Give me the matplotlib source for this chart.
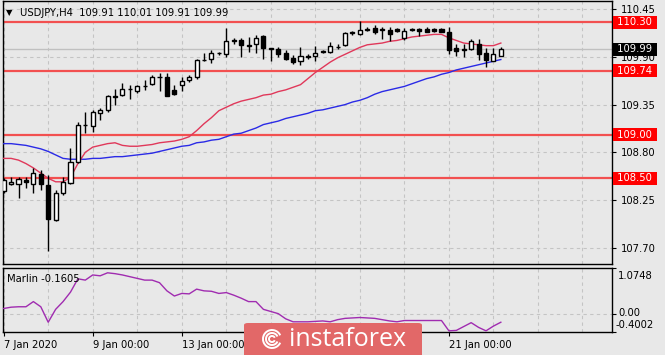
import numpy as np
import matplotlib
matplotlib.use('Agg')
import matplotlib.pyplot as plt
import matplotlib.transforms as mtransforms
from matplotlib.patches import FancyBboxPatch, Arc

# USDJPY H4 candles, 7 Jan 2020 00:00 .. 22 Jan 2020 04:00
opens = [108.35, 108.43, 108.44, 108.48, 108.44, 108.55, 108.42, 108.02, 108.33, 108.45,
         108.69, 109.12, 109.10, 109.25, 109.29, 109.45, 109.46, 109.53, 109.51, 109.56,
         109.59, 109.67, 109.67, 109.52, 109.58, 109.63, 109.67, 109.87, 109.88, 109.94,
         109.93, 110.08, 110.10, 110.04, 110.05, 110.14, 110.00, 109.99, 109.94, 109.89,
         109.85, 109.91, 109.91, 109.96, 109.96, 110.02, 110.04, 110.18, 110.17, 110.21,
         110.23, 110.21, 110.21, 110.22, 110.12, 110.21, 110.22, 110.22, 110.22, 110.22,
         110.19, 110.00, 109.98, 109.99, 110.05, 109.95, 109.85, 109.91]
highs = [108.50, 108.52, 108.51, 108.51, 108.62, 108.60, 108.54, 108.37, 108.51, 108.85,
         109.15, 109.27, 109.29, 109.31, 109.46, 109.53, 109.60, 109.58, 109.58, 109.63,
         109.69, 109.71, 109.72, 109.58, 109.67, 109.69, 109.88, 109.94, 109.98, 109.96,
         110.23, 110.12, 110.12, 110.13, 110.15, 110.15, 110.00, 110.01, 109.98, 109.92,
         110.02, 109.93, 110.03, 109.98, 110.07, 110.05, 110.19, 110.20, 110.31, 110.25,
         110.27, 110.25, 110.24, 110.23, 110.23, 110.23, 110.23, 110.24, 110.23, 110.23,
         110.25, 110.05, 110.05, 110.11, 110.11, 110.00, 110.00, 110.01]
lows = [108.33, 108.42, 108.27, 108.39, 108.33, 108.36, 107.66, 108.01, 108.31, 108.43,
        108.68, 109.02, 109.03, 109.17, 109.26, 109.35, 109.45, 109.41, 109.48, 109.52,
        109.58, 109.51, 109.45, 109.46, 109.51, 109.61, 109.64, 109.85, 109.83, 109.92,
        109.90, 110.05, 109.90, 109.96, 109.95, 109.88, 109.85, 109.90, 109.86, 109.82,
        109.81, 109.88, 109.85, 109.95, 109.95, 109.99, 110.03, 110.15, 110.15, 110.20,
        110.17, 110.11, 110.08, 110.19, 110.10, 110.20, 110.14, 110.19, 110.19, 110.19,
        109.93, 109.91, 109.90, 109.98, 109.87, 109.78, 109.85, 109.91]
closes = [108.48, 108.46, 108.49, 108.46, 108.56, 108.43, 108.03, 108.33, 108.46, 108.69,
          109.12, 109.11, 109.26, 109.29, 109.45, 109.44, 109.53, 109.53, 109.56, 109.57,
          109.67, 109.67, 109.45, 109.47, 109.62, 109.67, 109.87, 109.86, 109.94, 109.94,
          110.08, 110.09, 110.04, 110.03, 110.12, 110.00, 109.99, 109.93, 109.88, 109.84,
          109.91, 109.90, 109.95, 109.97, 110.03, 110.01, 110.18, 110.18, 110.21, 110.22,
          110.19, 110.22, 110.17, 110.20, 110.20, 110.22, 110.20, 110.19, 110.20, 110.19,
          109.98, 109.97, 109.99, 110.08, 109.93, 109.86, 109.93, 109.99]

ma_fast = [108.73, 108.73, 108.71, 108.67, 108.62, 108.56, 108.50, 108.46, 108.46, 108.51,
           108.67, 108.80, 108.86, 108.88, 108.90, 108.91, 108.88, 108.87, 108.87, 108.88,
           108.89, 108.91, 108.92, 108.93, 108.95, 108.98, 109.05, 109.13, 109.20, 109.28,
           109.32, 109.36, 109.39, 109.41, 109.43, 109.46, 109.47, 109.50, 109.52, 109.55,
           109.58, 109.65, 109.72, 109.78, 109.84, 109.89, 109.93, 109.97, 110.01, 110.04,
           110.05, 110.06, 110.08, 110.09, 110.11, 110.13, 110.14, 110.15, 110.16, 110.16,
           110.12, 110.09, 110.06, 110.05, 110.04, 110.03, 110.03, 110.06]
ma_slow = [108.90, 108.90, 108.89, 108.88, 108.86, 108.84, 108.81, 108.77, 108.73, 108.72,
           108.72, 108.72, 108.73, 108.73, 108.74, 108.75, 108.75, 108.76, 108.77, 108.78,
           108.79, 108.81, 108.83, 108.85, 108.87, 108.88, 108.91, 108.92, 108.94, 108.95,
           108.98, 109.01, 109.02, 109.05, 109.08, 109.12, 109.14, 109.16, 109.19, 109.21,
           109.23, 109.25, 109.28, 109.29, 109.31, 109.33, 109.35, 109.38, 109.40, 109.43,
           109.47, 109.50, 109.52, 109.54, 109.56, 109.59, 109.62, 109.65, 109.67, 109.70,
           109.72, 109.75, 109.77, 109.79, 109.81, 109.83, 109.85, 109.87]

marlin = [0.14, 0.17, 0.18, 0.18, 0.30, 0.18, -0.18, 0.12, 0.30, 0.52,
          0.83, 0.80, 0.92, 0.90, 0.97, 0.95, 0.92, 0.88, 0.84, 0.80,
          0.80, 0.74, 0.55, 0.43, 0.49, 0.48, 0.59, 0.55, 0.54, 0.49,
          0.51, 0.45, 0.38, 0.30, 0.30, 0.12, 0.07, 0.02, -0.10, -0.17,
          -0.17, -0.17, -0.16, -0.15, -0.17, -0.12, -0.09, -0.08, -0.07, -0.08,
          -0.09, -0.12, -0.15, -0.17, -0.14, -0.14, -0.14, -0.14, -0.14, -0.14,
          -0.38, -0.37, -0.28, -0.19, -0.30, -0.38, -0.27, -0.18]

levels = [110.30, 109.74, 109.00, 108.50]
price_ticks = [107.70, 108.25, 108.80, 109.35, 109.90, 110.45]
date_pos = [0, 12, 24, 36, 48, 60]
date_labels = ['7 Jan 2020', '9 Jan 00:00', '13 Jan 00:00', '15 Jan 00:00',
               '17 Jan 00:00', '21 Jan 00:00']
last_price = 109.99

bg = '#e8e8e8'
fs = 7.2
W, H = 665, 355

fig = plt.figure(figsize=(6.65, 3.55), dpi=100, facecolor=bg)
ax = fig.add_axes([2.5 / W, 1 - 264 / H, 609.8 / W, 263 / H], facecolor=bg)
ax2 = fig.add_axes([2.5 / W, 1 - 331.7 / H, 609.8 / W, 63.4 / H], facecolor=bg)

x = np.arange(len(opens))
o = np.array(opens)
c = np.array(closes)

for a in (ax, ax2):
    a.set_xlim(-0.16, 82.02)
    for s in a.spines.values():
        s.set_color('black')
        s.set_linewidth(1)
    for g in range(0, 84, 6):
        a.axvline(g, color='#c4c4c4', lw=0.8, ls=(0, (3, 3)), zorder=0)

# main panel
ax.set_ylim(107.512, 110.545)
for p in price_ticks:
    ax.axhline(p, color='#c4c4c4', lw=0.8, ls=(0, (3, 3)), zorder=0)
ax.axhline(last_price, color='#c0c0c0', lw=1, zorder=1)
for lv in levels:
    ax.axhline(lv, color='#f25050', lw=1.6, zorder=2)

ax.plot(x, ma_slow, color='#2a2ae6', lw=1, zorder=3)
ax.plot(x, ma_fast, color='#e0385a', lw=1, zorder=3)

ax.vlines(x, lows, highs, color='black', lw=1, zorder=4)
up = c >= o
body = np.maximum(np.abs(c - o), 0.004)
ax.bar(x[up], body[up], bottom=np.minimum(o, c)[up], width=0.55,
       color='white', edgecolor='black', lw=1, zorder=5)
ax.bar(x[~up], body[~up], bottom=np.minimum(o, c)[~up], width=0.55,
       color='black', edgecolor='black', lw=1, zorder=5)

ax.yaxis.tick_right()
ax.set_yticks(price_ticks)
ax.set_yticklabels(['%.2f' % p for p in price_ticks])
ax.tick_params(axis='y', labelsize=fs, length=3, pad=3, colors='black')
ax.set_xticks([])

trans = mtransforms.blended_transform_factory(ax.transAxes, ax.transData)
for lv in levels:
    ax.text(1.0028, lv, ' %.2f ' % lv, transform=trans, ha='left', va='center',
            color='white', fontsize=fs, clip_on=False, zorder=10,
            bbox=dict(boxstyle='square,pad=0.15', fc='#ff0000', ec='none'))
ax.text(1.0028, last_price, ' %.2f ' % last_price, transform=trans, ha='left',
        va='center', color='white', fontsize=fs, clip_on=False, zorder=10,
        bbox=dict(boxstyle='square,pad=0.15', fc='black', ec='none'))

# indicator panel
ax2.set_ylim(-0.4002, 1.0748)
ax2.axhline(0, color='#c4c4c4', lw=0.8, ls=(0, (3, 3)), zorder=0)
ax2.plot(x, marlin, color='#a02cb0', lw=1, zorder=3)
ax2.yaxis.tick_right()
ax2.set_yticks([1.0748, 0.0, -0.4002])
ax2.set_yticklabels([])
ax2.tick_params(axis='y', length=3)
fig.text(618 / W, 1 - 275.7 / H, '1.0748', fontsize=fs, va='center')
fig.text(618 / W, 1 - 313.5 / H, '0.00', fontsize=fs, va='center')
fig.text(616 / W, 1 - 325.5 / H, '-0.4002', fontsize=fs, va='center')
ax2.set_xticks(date_pos)
ax2.set_xticklabels(date_labels, ha='left')
ax2.tick_params(axis='x', labelsize=fs, length=3, pad=3, colors='black')
fig.text(7 / W, 1 - 279 / H, 'Marlin -0.1605', fontsize=fs, va='center')

# header
fig.text(6 / W, 1 - 13 / H, '\u25bc', fontsize=6, va='center')
fig.text(20 / W, 1 - 13 / H, 'USDJPY,H4  109.91 110.01 109.91 109.99',
         fontsize=fs, va='center')

# watermark (covers the 15 Jan / 17 Jan labels, like the source)
box = FancyBboxPatch((244 / W, -0.02), 178 / W, (32 / H) + 0.02,
                     boxstyle='round,pad=0,rounding_size=0.006',
                     transform=fig.transFigure, fc='#e26868', ec='none', zorder=20)
fig.add_artist(box)
for r in (9, 6, 3):
    arc = Arc((272 / W, 1 - 339 / H), 2 * r / W, 2 * r / H, theta1=40, theta2=320,
              transform=fig.transFigure, color='white', lw=1.4, zorder=21)
    fig.add_artist(arc)
fig.text(289 / W, 1 - 339 / H, 'instaforex', fontsize=18, color='white',
         family='Open Sans', va='center', zorder=22)

fig.savefig('out.png', dpi=100, facecolor=bg)
